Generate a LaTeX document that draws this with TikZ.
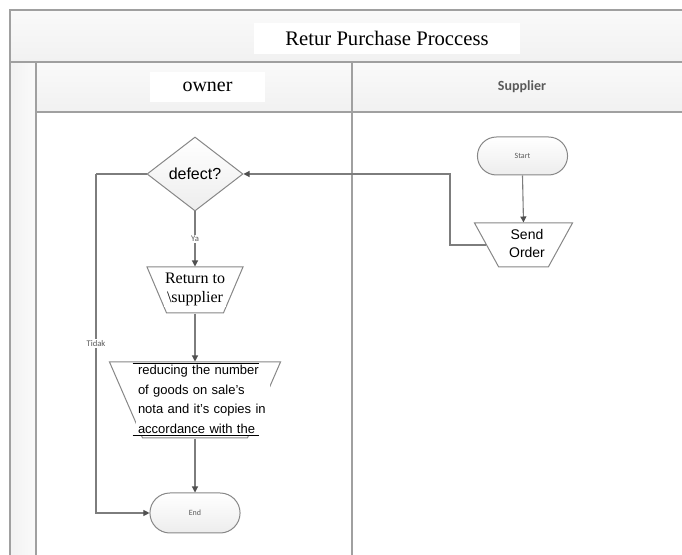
\documentclass[tikz,border=0pt]{standalone}
\usepackage{fontspec}
\setmainfont{Liberation Serif}
\setsansfont{Liberation Sans}
\newfontfamily\calibri{Carlito}
\usetikzlibrary{shapes.geometric,shapes.misc,arrows.meta}
\newdimen\px \px=0.75pt
\definecolor{frameline}{RGB}{160,160,160}
\definecolor{shapeline}{RGB}{135,135,135}
\definecolor{conn}{RGB}{125,125,125}
\definecolor{tip}{RGB}{80,80,80}
\definecolor{smalltxt}{RGB}{90,90,90}
\begin{document}
\begin{tikzpicture}[x=0.75pt,y=-0.75pt,
  frame/.style={draw=frameline, line width=1.6\px},
  decision/.style={diamond, draw=shapeline, line width=1\px, inner sep=0pt,
    minimum width=96\px, minimum height=74\px,
    shading=axis, top color=white, bottom color=gray!14,
    font=\sffamily\fontsize{12}{14}\selectfont},
  manual/.style={trapezium, draw=shapeline, line width=1\px, fill=white,
    trapezium stretches=true, inner sep=2pt},
  terminal/.style={rounded rectangle, draw=shapeline, line width=1\px,
    shading=axis, top color=white, bottom color=gray!14,
    font=\calibri\fontsize{6}{7}\selectfont, text=smalltxt},
  txtbox/.style={fill=white, inner sep=1.5\px},
  conn/.style={draw=conn, line width=1.1\px, -{Triangle[length=4.5pt,width=4.5pt,color=tip]}},
  plain/.style={draw=conn, line width=1.1\px},
  lbl/.style={fill=white, inner sep=1\px, font=\calibri\fontsize{6.5}{7.5}\selectfont, text=smalltxt}
]
\useasboundingbox (0,0) rectangle (682,555);
% bands
\shade[top color=gray!4, bottom color=gray!11] (10,10) rectangle (682,62);
\shade[top color=gray!4, bottom color=gray!11] (36,62) rectangle (682,112);
\shade[left color=gray!10, right color=gray!4] (10,62) rectangle (36,555);
% frame lines
\draw[frame] (682,10) -- (10,10) -- (10,555);
\draw[frame] (10,62) -- (682,62);
\draw[frame] (36,112) -- (682,112);
\draw[frame] (36,62) -- (36,555);
\draw[frame] (352,62) -- (352,555);
% headers
\node[fill=white, minimum width=266\px, minimum height=31\px, inner sep=0pt,
  font=\fontsize{15.5}{18}\selectfont] (title) at (387,38.5) {Retur Purchase Proccess};
\node[fill=white, minimum width=115\px, minimum height=30\px, inner sep=0pt,
  font=\fontsize{15}{18}\selectfont] (owner) at (207.5,87) {owner};
\node[font=\calibri\bfseries\fontsize{10.5}{12}\selectfont, text=smalltxt] (supplier) at (522,87) {Supplier};
% shapes
\node[decision] (defect) at (195,174) {defect?};
\node[manual, minimum width=96\px, minimum height=46\px,
  trapezium left angle=109, trapezium right angle=109] (ret) at (195,290) {};
\node[manual, minimum width=171\px, minimum height=76\px,
  trapezium left angle=107.5, trapezium right angle=107.5] (red) at (195,400) {};
\node[terminal, minimum width=99\px, minimum height=40\px] (end) at (195,513) {End};
\node[terminal, minimum width=99\px, minimum height=38\px] (start) at (522.5,156) {Start};
\node[manual, minimum width=98\px, minimum height=44\px,
  trapezium left angle=116, trapezium right angle=116] (send) at (523.5,245) {};
% texts
\node[txtbox, align=center, font=\fontsize{12}{14.25}\selectfont] (rettxt) at (195,289)
  {Return to\\\textbackslash supplier};
\node[txtbox, align=center, font=\sffamily\fontsize{10.5}{13.5}\selectfont] (sendtxt) at (527,244)
  {Send\\Order};
\node[txtbox, text width=130\px, align=left, inner sep=2\px,
  font=\sffamily\fontsize{9.75}{14.6}\selectfont] (redtxt) at (203,399.5)
  {reducing the number\\ of goods on sale’s\\nota and it’s copies in\\accordance with the};
\draw[black, line width=1.5\px] ([xshift=-3\px]redtxt.north west) -- ([xshift=-11\px]redtxt.north east);
\draw[black, line width=1.5\px] ([xshift=-3\px]redtxt.south west) -- ([xshift=-11\px]redtxt.south east);
% connectors
\draw[conn] (defect.south) -- node[lbl] {Ya} (ret.north);
\draw[conn] (ret.south) -- (red.north);
\draw[conn] (red.south) -- (end.north);
\coordinate (tk) at (96,174);
\draw[plain] (defect.west) -- (tk);
\draw[conn] (tk) |- node[lbl, pos=0.25] {Tidak} (end.west);
\draw[conn] (start.south) -- (send.north);
\coordinate (sk) at (450,174);
\draw[conn] (send.west) -| (sk) -- (defect.east);
\end{tikzpicture}
\end{document}
